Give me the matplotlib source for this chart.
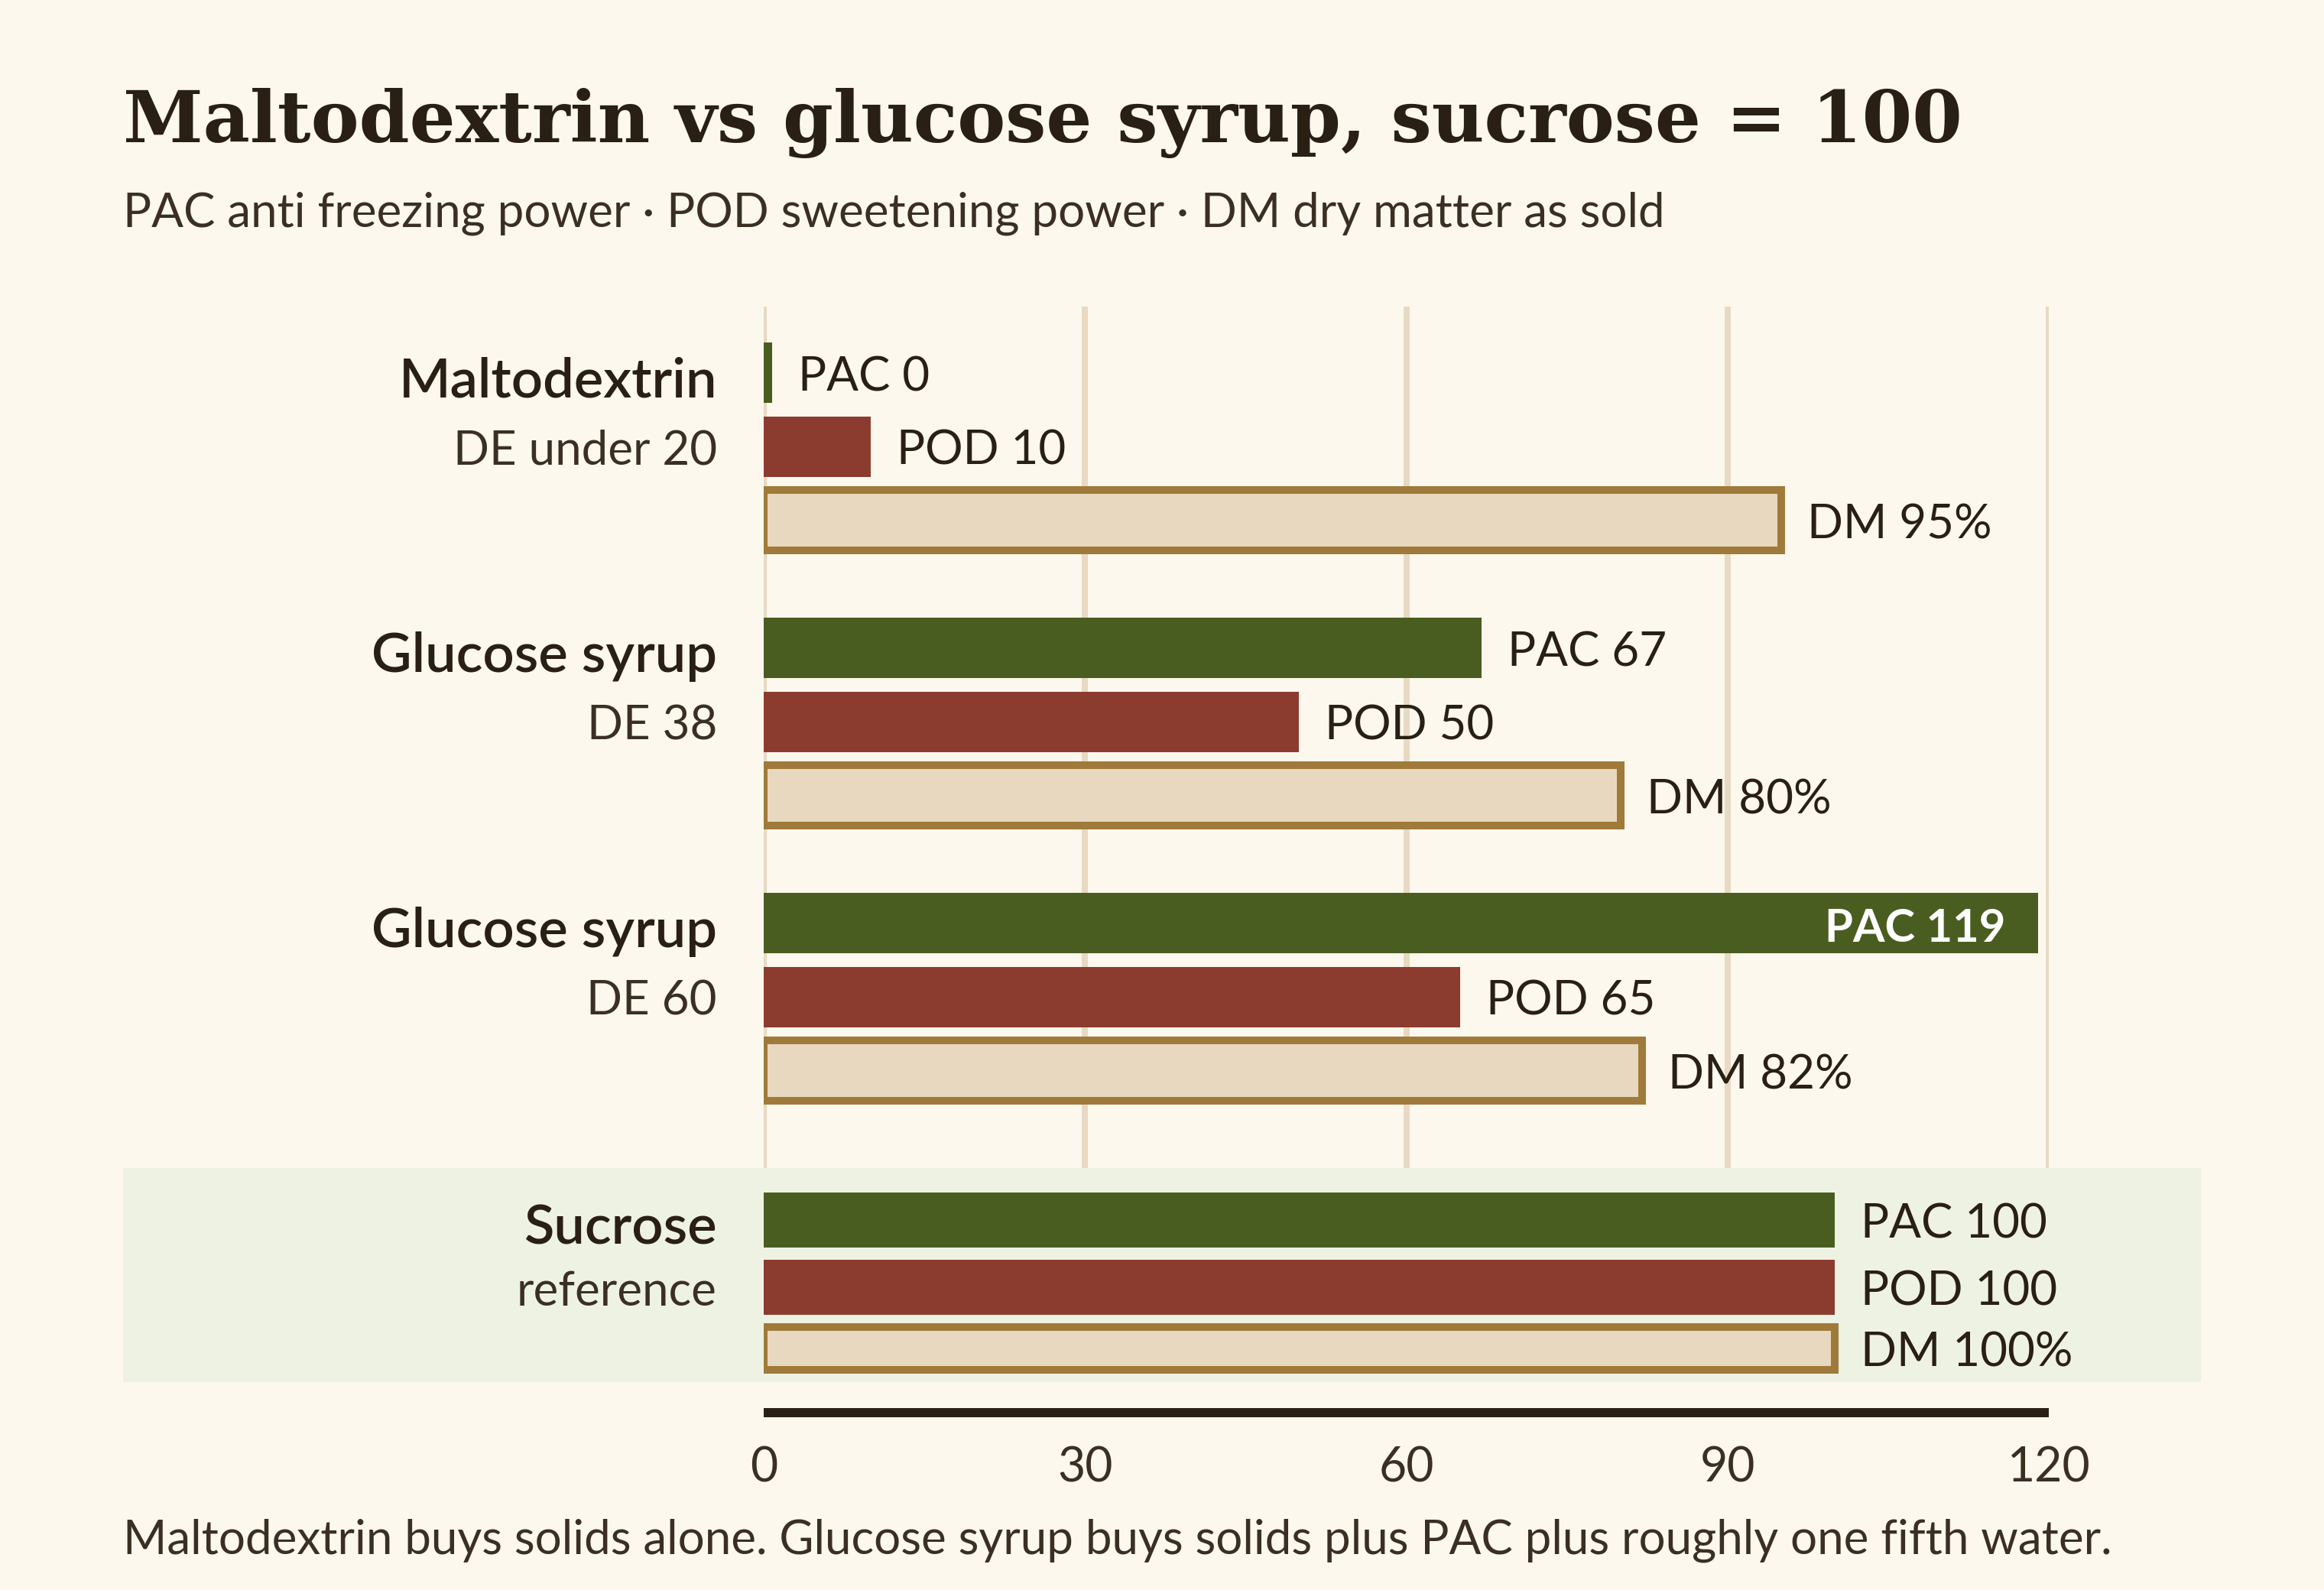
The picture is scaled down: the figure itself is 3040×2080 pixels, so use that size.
import matplotlib
matplotlib.use("Agg")
import matplotlib.pyplot as plt

# values, sucrose = 100
products = ["Maltodextrin", "Glucose syrup", "Glucose syrup", "Sucrose"]
subtitles = ["DE under 20", "DE 38", "DE 60", "reference"]
pac = [0, 67, 119, 100]
pod = [10, 50, 65, 100]
dm = [95, 80, 82, 100]
ticks = [0, 30, 60, 90, 120]

BG = "#fcf8ee"
GREEN = "#4a5d20"
RED = "#8b3c2f"
DM_FILL = "#e8d8bf"
DM_EDGE = "#a07a3a"
GRID = "#e8dac2"
BAND = "#eef2e3"
INK = "#2a1f14"
INK2 = "#3b2f24"

SANS = ["Lato", "DejaVu Sans"]
PT = 72 / 200  # points per pixel at dpi 200
FS = 22.3

fig = plt.figure(figsize=(15.2, 10.4), dpi=200, facecolor=BG)
W, H = 3040, 2080
# y axis runs in pixels from the top of the figure, handy for layout
ax = fig.add_axes([999 / W, 1 - 1848 / H, 1681 / W, (1848 - 401) / H])
ax.set_facecolor("none")
ax.set_xlim(0, 120)
ax.set_ylim(1848, 401)
for s in ax.spines.values():
    s.set_visible(False)
ax.set_yticks([])
ax.set_xticks(ticks)
ax.set_xticklabels([str(t) for t in ticks], fontsize=22.5, color=INK2, family=SANS)
ax.tick_params(axis="x", length=0, pad=15.5)

ax.vlines(ticks, 401, 1528, color=GRID, lw=8 * PT, zorder=0)
band = ax.axhspan(1528, 1808, xmin=(161 - 999) / 1681, xmax=(2879 - 999) / 1681,
                  color=BAND, lw=0, zorder=0.5)
band.set_clip_on(False)
ax.hlines(1848, 0, 120, color=INK, lw=12 * PT, capstyle="butt", clip_on=False, zorder=3)

group_top = [487.5, 847.5, 1207.5, 1596]
for i in range(len(products)):
    y0 = group_top[i]
    if i < 3:
        offs, hts = [0, 96.5, 193], [79, 79, 79]
    else:
        offs, hts = [0, 88, 168], [72, 72, 56]
    ys = [y0 + o for o in offs]

    ax.barh(ys[0], max(pac[i], 0.8), height=hts[0], color=GREEN, zorder=2)
    ax.barh(ys[1], pod[i], height=hts[1], color=RED, zorder=2)
    ax.barh(ys[2], dm[i], height=hts[2], color=DM_FILL, edgecolor=DM_EDGE,
            lw=10 * PT, zorder=2)

    labels = [f"PAC {pac[i]}", f"POD {pod[i]}", f"DM {dm[i]}%"]
    vals = [max(pac[i], 0.8), pod[i], dm[i]]
    for y, v, lab in zip(ys, vals, labels):
        if v > 110:
            ax.annotate(lab, (v, y), xytext=(-42 * PT, -24 * PT), textcoords="offset points",
                        ha="right", va="baseline", fontsize=21.5, color="white",
                        fontweight="bold", family=SANS, zorder=4)
        else:
            ax.annotate(lab, (v, y), xytext=(34 * PT, -24 * PT), textcoords="offset points",
                        ha="left", va="baseline", fontsize=FS, color=INK,
                        family=SANS, zorder=4)

    ax.annotate(products[i], (0, ys[0]), xytext=(-61 * PT, -32 * PT),
                textcoords="offset points", ha="right", va="baseline",
                fontsize=26, fontweight="semibold", color=INK, family=SANS,
                annotation_clip=False)
    ax.annotate(subtitles[i], (0, ys[1]), xytext=(-61 * PT, -24 * PT),
                textcoords="offset points", ha="right", va="baseline",
                fontsize=FS, color=INK2, family=SANS, annotation_clip=False)

fig.text(161 / W, 1 - 186 / H, "Maltodextrin vs glucose syrup, sucrose = 100",
         ha="left", va="baseline", fontsize=34, fontweight="bold",
         family=["DejaVu Serif"], color=INK)
fig.text(161 / W, 1 - 297 / H,
         "PAC anti freezing power \u00b7 POD sweetening power \u00b7 DM dry matter as sold",
         ha="left", va="baseline", fontsize=FS, color=INK2, family=SANS)
fig.text(161 / W, 1 - 2033 / H,
         "Maltodextrin buys solids alone. Glucose syrup buys solids plus PAC plus roughly one fifth water.",
         ha="left", va="baseline", fontsize=FS, color=INK2, family=SANS)

fig.savefig("out.png", dpi=200, facecolor=BG)
